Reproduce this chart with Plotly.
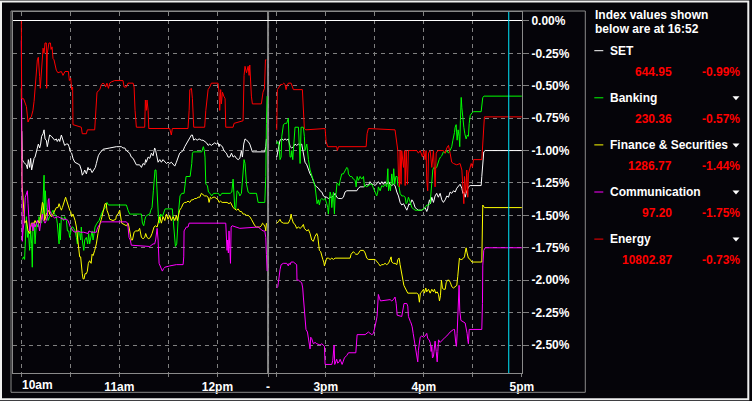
import plotly.graph_objects as go

# ---------------- data ----------------
SERIES_NAMES = ["SET", "Banking", "Finance & Securities", "Communication", "Energy"]
SERIES_COLORS = ["#ffffff", "#00ff00", "#ffff00", "#ff00ff", "#ff0000"]
INDEX_VALUES = ["644.95", "230.36", "1286.77", "97.20", "10802.87"]
INDEX_CHANGES = ["-0.99%", "-0.57%", "-1.44%", "-1.75%", "-0.73%"]
AS_OF_LABEL = "16:52"
AS_OF_MIN = 412          # 16:52 in minutes after 10:00

Y_TICKS = [0.0, -0.25, -0.5, -0.75, -1.0, -1.25, -1.5, -1.75, -2.0, -2.25, -2.5]
Y_TICK_TEXT = ["0.00%", "-0.25%", "-0.50%", "-0.75%", "-1.00%", "-1.25%",
               "-1.50%", "-1.75%", "-2.00%", "-2.25%", "-2.50%"]
# grid / tick times, minutes after 10:00
X_TICK_MIN = [0, 30, 60, 90, 120, 270, 300, 330, 360, 390, 420]
X_TICK_TEXT = ["", "", "11am", "", "12pm", "", "3pm", "", "4pm", "", "5pm"]
FIRST_LABEL = "10am"
BREAK_LABEL = "-"

# time in minutes after 10:00, value in % change
SET_AM_T = [0.3, 0.6, 1.4, 2.0, 3.1, 3.7, 4.3, 5.1, 5.7, 6.3,
            7.1, 7.8, 8.4, 9.2, 9.8, 10.4, 11.2, 11.8, 12.4, 13.3,
            13.9, 14.5, 15.3, 15.9, 16.5, 17.3, 18.4, 19.4, 20.4, 21.4,
            22.0, 22.9, 23.5, 24.5, 25.1, 25.5, 26.5, 27.6, 28.6, 29.2,
            30.0, 30.8, 31.6, 32.7, 34.7, 35.7, 36.7, 37.3, 38.2, 38.8,
            39.8, 40.8, 41.4, 42.2, 43.3, 44.3, 45.3, 45.9, 46.5, 47.1,
            48.0, 49.0, 50.0, 54.1, 58.2, 61.2, 62.2, 63.3, 64.3, 66.3,
            67.3, 68.4, 69.4, 70.4, 71.4, 72.4, 73.5, 74.5, 75.5, 76.1,
            76.5, 77.6, 78.6, 79.6, 80.6, 81.6, 82.2, 83.1, 83.7, 84.7,
            85.7, 86.7, 87.8, 88.8, 89.8, 90.8, 91.8, 92.9, 93.9, 94.9,
            95.9, 96.9, 98.0, 99.0, 100.0, 101.0, 102.0, 103.1, 104.1, 104.7,
            105.5, 106.5, 107.6, 108.8, 110.2, 111.2, 112.2, 113.3, 114.3, 115.3,
            116.3, 117.3, 118.4, 119.4, 120.4, 121.0, 121.4, 122.0, 123.1, 123.9,
            124.7, 125.5, 126.5, 127.6, 128.6, 129.6, 130.6, 131.6, 132.7, 133.7,
            134.7, 135.3, 136.1, 136.9, 137.8, 138.8, 139.8, 140.8, 141.4, 142.9,
            149.0, 149.6, 150.0]
SET_AM_V = [-0.85, -1.07, -1.09, -1.10, -1.11, -1.14, -1.07, -1.13, -1.06, -1.15,
            -1.10, -1.06, -1.05, -1.02, -0.98, -0.95, -0.98, -0.95, -0.89, -0.87,
            -0.84, -0.91, -0.92, -0.97, -0.92, -0.88, -0.89, -0.91, -0.92, -0.91,
            -0.93, -0.91, -0.93, -0.88, -0.91, -0.93, -0.96, -0.95, -0.95, -0.97,
            -1.01, -1.02, -1.06, -1.09, -1.10, -1.11, -1.15, -1.19, -1.17, -1.15,
            -1.18, -1.13, -1.15, -1.14, -1.17, -1.15, -1.13, -1.10, -1.06, -1.04,
            -1.02, -1.00, -0.99, -0.98, -0.97, -0.97, -0.98, -0.98, -1.00, -1.02,
            -1.05, -1.06, -1.09, -1.11, -1.11, -1.11, -1.13, -1.10, -1.11, -1.07,
            -1.09, -1.05, -1.06, -1.02, -1.04, -0.98, -1.00, -1.05, -1.09, -1.07,
            -1.09, -1.07, -1.09, -1.10, -1.09, -1.10, -1.09, -1.11, -1.12, -1.09,
            -1.05, -1.02, -1.01, -1.00, -0.97, -0.95, -0.93, -0.91, -0.88, -0.88,
            -0.92, -0.91, -0.92, -0.91, -0.92, -0.92, -0.93, -0.94, -0.96, -0.95,
            -0.96, -0.95, -0.94, -0.95, -0.94, -0.97, -0.95, -0.96, -0.97, -1.00,
            -1.01, -1.02, -1.05, -1.05, -1.02, -1.05, -1.04, -1.06, -1.07, -1.06,
            -1.00, -1.05, -0.95, -0.91, -0.92, -0.93, -0.95, -1.00, -1.01, -1.01,
            -1.01, -0.97, -0.91]
SET_PM_T = [270.0, 270.6, 271.4, 272.0, 273.1, 274.1, 275.1, 276.1, 277.1, 278.2,
            279.2, 280.2, 281.2, 282.2, 283.3, 284.3, 285.3, 286.3, 287.3, 288.4,
            289.4, 290.4, 291.4, 292.4, 293.5, 294.5, 295.5, 296.5, 297.6, 298.6,
            299.6, 300.6, 301.6, 302.7, 303.7, 304.7, 305.7, 306.7, 307.8, 308.8,
            309.8, 310.8, 311.8, 312.9, 319.0, 320.0, 321.0, 323.1, 324.1, 325.1,
            326.1, 327.1, 328.2, 329.2, 330.2, 331.2, 332.2, 333.3, 334.3, 335.3,
            336.3, 337.3, 338.4, 339.4, 340.4, 341.4, 342.4, 343.5, 344.5, 345.5,
            346.5, 347.6, 348.6, 349.6, 350.2, 351.0, 351.6, 352.7, 353.7, 354.7,
            355.7, 356.7, 357.8, 358.8, 359.8, 360.8, 361.8, 362.4, 362.9, 363.5,
            364.1, 364.9, 365.9, 366.9, 367.9, 368.9, 370.0, 371.0, 372.0, 373.1,
            374.1, 375.1, 376.1, 377.1, 378.2, 379.2, 380.2, 381.2, 382.2, 383.3,
            383.9, 384.5, 385.3, 385.9, 386.5, 387.3, 388.4, 395.1, 395.5, 396.1,
            396.7, 397.6, 420.0]
SET_PM_V = [-1.05, -1.00, -0.96, -0.92, -0.91, -0.92, -0.91, -0.92, -0.91, -0.97,
            -0.98, -0.97, -0.95, -0.96, -0.95, -0.96, -0.95, -1.02, -1.09, -1.11,
            -1.15, -1.18, -1.20, -1.24, -1.27, -1.28, -1.29, -1.31, -1.32, -1.35,
            -1.36, -1.36, -1.37, -1.36, -1.36, -1.35, -1.33, -1.36, -1.37, -1.37,
            -1.37, -1.36, -1.32, -1.31, -1.31, -1.29, -1.28, -1.28, -1.27, -1.26,
            -1.27, -1.24, -1.26, -1.26, -1.27, -1.25, -1.24, -1.26, -1.24, -1.26,
            -1.24, -1.26, -1.24, -1.26, -1.27, -1.26, -1.27, -1.32, -1.35, -1.40,
            -1.42, -1.41, -1.44, -1.46, -1.44, -1.41, -1.42, -1.38, -1.40, -1.44,
            -1.45, -1.46, -1.46, -1.46, -1.45, -1.44, -1.47, -1.45, -1.41, -1.38,
            -1.41, -1.36, -1.40, -1.35, -1.33, -1.36, -1.33, -1.38, -1.40, -1.38,
            -1.35, -1.36, -1.32, -1.33, -1.31, -1.32, -1.29, -1.27, -1.26, -1.29,
            -1.33, -1.32, -1.36, -1.33, -1.31, -1.28, -1.27, -1.27, -1.20, -1.13,
            -1.01, -1.00, -1.00]

BANK_AM_T = [0.6, 1.4, 2.0, 2.7, 3.1, 3.7, 4.3, 5.1, 5.7, 6.3,
             6.7, 7.1, 7.8, 8.4, 9.2, 10.2, 10.8, 11.6, 12.4, 13.1,
             13.5, 13.9, 14.3, 14.7, 15.3, 15.9, 16.3, 17.3, 19.4, 20.4,
             21.4, 22.0, 22.7, 23.1, 23.5, 23.9, 24.5, 25.9, 26.5, 27.6,
             28.2, 29.0, 29.6, 30.8, 31.6, 32.9, 33.7, 34.3, 34.9, 35.7,
             36.3, 36.7, 37.3, 38.2, 38.8, 39.8, 40.6, 41.2, 41.8, 42.7,
             43.3, 43.9, 44.5, 45.1, 46.3, 47.6, 48.4, 49.2, 50.0, 51.6,
             52.4, 53.3, 55.1, 64.3, 65.3, 66.3, 72.4, 73.5, 74.1, 74.9,
             75.5, 76.1, 76.9, 78.6, 79.2, 80.0, 80.8, 81.4, 81.8, 82.4,
             82.9, 83.3, 83.9, 84.5, 85.3, 86.3, 86.9, 88.0, 92.4, 93.1,
             93.7, 94.3, 95.1, 95.7, 96.3, 97.1, 98.2, 99.6, 100.2, 100.8,
             103.3, 103.9, 104.3, 104.7, 105.3, 110.4, 111.4, 112.0, 112.4, 112.9,
             113.9, 114.5, 115.5, 116.5, 117.6, 119.6, 120.6, 121.6, 122.7, 127.8,
             128.8, 129.6, 130.0, 130.6, 131.2, 132.0, 132.9, 133.7, 134.7, 135.7,
             136.3, 136.9, 137.8, 138.8, 139.8, 143.9, 144.9, 149.0, 149.6, 150.0,
             150.4]
BANK_AM_V = [-1.84, -1.82, -1.84, -1.56, -1.51, -1.67, -1.62, -1.77, -1.62, -1.72,
             -1.90, -1.59, -1.56, -1.72, -1.56, -1.59, -1.51, -1.54, -1.56, -1.46,
             -1.31, -1.19, -1.51, -1.31, -1.44, -1.49, -1.54, -1.51, -1.46, -1.49,
             -1.51, -1.56, -1.67, -1.72, -1.56, -1.69, -1.51, -1.54, -1.51, -1.54,
             -1.62, -1.62, -1.67, -1.59, -1.59, -1.62, -1.67, -1.72, -1.62, -1.64,
             -1.69, -1.59, -1.69, -1.77, -1.69, -1.67, -1.72, -1.64, -1.72, -1.67,
             -1.62, -1.69, -1.64, -1.59, -1.56, -1.54, -1.51, -1.49, -1.46, -1.44,
             -1.40, -1.42, -1.42, -1.42, -1.46, -1.49, -1.49, -1.49, -1.56, -1.58,
             -1.54, -1.51, -1.50, -1.49, -1.46, -1.44, -1.31, -1.20, -1.15, -1.15,
             -1.26, -1.41, -1.51, -1.56, -1.49, -1.51, -1.49, -1.45, -1.45, -1.54,
             -1.67, -1.74, -1.72, -1.56, -1.46, -1.35, -1.33, -1.33, -1.27, -1.20,
             -1.20, -1.15, -1.10, -1.02, -1.01, -1.01, -0.97, -1.00, -1.05, -1.26,
             -1.27, -1.32, -1.33, -1.35, -1.33, -1.33, -1.33, -1.35, -1.33, -1.33,
             -1.32, -1.22, -1.31, -1.44, -1.45, -1.31, -1.32, -1.35, -1.33, -1.20,
             -1.07, -1.10, -1.26, -1.32, -1.33, -1.33, -1.40, -1.40, -1.20, -0.79,
             -0.58]
BANK_PM_T = [270.0, 270.6, 271.4, 272.0, 272.7, 273.1, 274.1, 275.1, 276.1, 276.7,
             277.1, 277.6, 278.2, 278.8, 279.2, 279.8, 280.4, 280.8, 281.2, 283.3,
             283.7, 284.3, 284.9, 286.3, 286.9, 287.3, 288.4, 289.0, 289.4, 290.4,
             291.4, 292.4, 293.5, 294.1, 294.7, 295.5, 296.1, 296.7, 297.6, 298.6,
             299.6, 300.6, 301.2, 301.6, 302.2, 302.7, 303.3, 303.7, 304.1, 304.7,
             305.3, 305.7, 306.3, 306.9, 307.8, 308.2, 308.8, 309.8, 310.8, 311.8,
             312.9, 313.5, 313.9, 314.9, 315.9, 316.9, 318.0, 318.6, 319.2, 320.0,
             321.0, 322.0, 323.1, 323.7, 324.5, 325.1, 326.1, 327.1, 328.2, 329.2,
             330.2, 331.2, 331.8, 332.2, 333.3, 334.3, 335.3, 336.3, 337.3, 338.0,
             338.4, 339.0, 339.6, 340.4, 341.0, 341.6, 342.2, 342.9, 343.7, 344.1,
             344.9, 345.5, 346.5, 347.6, 348.6, 349.2, 349.8, 350.6, 351.2, 352.0,
             352.7, 353.7, 354.7, 358.8, 360.8, 361.8, 362.9, 363.9, 364.5, 364.9,
             365.5, 366.1, 366.9, 367.9, 368.6, 369.4, 370.2, 371.0, 372.0, 373.1,
             374.1, 375.1, 376.1, 377.1, 377.8, 378.4, 378.8, 379.2, 379.8, 380.4,
             381.0, 381.6, 382.0, 382.4, 382.9, 383.3, 383.9, 384.5, 385.1, 385.9,
             386.7, 387.3, 387.8, 388.4, 389.4, 390.4, 395.1, 395.5, 396.1, 396.9,
             420.0]
BANK_PM_V = [-0.95, -0.93, -0.96, -1.07, -1.05, -0.89, -0.80, -0.79, -0.79, -0.77,
             -0.75, -0.95, -1.05, -1.05, -1.00, -1.07, -0.95, -0.83, -0.82, -0.82,
             -1.00, -1.10, -0.82, -0.82, -0.89, -1.00, -0.95, -1.05, -1.07, -1.15,
             -1.20, -1.23, -1.28, -1.36, -1.41, -1.38, -1.42, -1.38, -1.37, -1.38,
             -1.37, -1.41, -1.44, -1.49, -1.36, -1.32, -1.35, -1.44, -1.38, -1.32,
             -1.49, -1.36, -1.33, -1.25, -1.26, -1.27, -1.23, -1.18, -1.18, -1.15,
             -1.13, -1.14, -1.18, -1.20, -1.20, -1.22, -1.23, -1.28, -1.20, -1.23,
             -1.20, -1.22, -1.20, -1.28, -1.27, -1.28, -1.27, -1.26, -1.26, -1.29,
             -1.31, -1.35, -1.32, -1.28, -1.31, -1.27, -1.28, -1.26, -1.28, -1.14,
             -1.31, -1.26, -1.31, -1.18, -1.26, -1.14, -1.26, -1.20, -1.20, -1.27,
             -1.28, -1.33, -1.35, -1.35, -1.36, -1.41, -1.40, -1.36, -1.38, -1.41,
             -1.44, -1.45, -1.46, -1.46, -1.44, -1.42, -1.42, -1.41, -1.31, -1.20,
             -1.15, -1.13, -1.14, -1.13, -1.09, -1.07, -1.05, -1.04, -1.01, -1.02,
             -1.00, -1.02, -1.00, -0.97, -0.92, -0.89, -0.86, -0.82, -0.80, -0.92,
             -0.84, -0.89, -0.97, -0.77, -0.59, -0.67, -0.77, -0.82, -0.87, -0.91,
             -0.88, -0.89, -0.79, -0.73, -0.71, -0.70, -0.70, -0.66, -0.59, -0.58,
             -0.58]

FIN_AM_T = [0.0, 0.4, 1.0, 2.0, 3.1, 4.1, 5.1, 6.1, 7.8, 8.4,
            9.2, 10.2, 11.2, 11.8, 12.4, 12.9, 13.3, 13.9, 14.3, 15.3,
            16.9, 17.3, 18.4, 19.4, 20.4, 21.4, 22.4, 23.1, 23.9, 24.5,
            25.1, 25.9, 26.5, 27.1, 27.6, 28.2, 29.0, 29.6, 30.2, 30.8,
            31.6, 32.2, 32.9, 33.7, 34.3, 34.9, 35.3, 35.7, 36.3, 36.9,
            37.3, 37.8, 38.4, 39.0, 39.8, 40.4, 41.0, 41.8, 42.7, 43.3,
            43.9, 44.9, 45.9, 46.9, 47.6, 48.2, 49.0, 49.6, 50.4, 51.2,
            52.0, 52.4, 53.3, 54.1, 56.1, 57.8, 58.2, 59.2, 60.2, 60.8,
            61.4, 64.3, 65.3, 65.9, 66.3, 66.7, 67.3, 68.0, 69.0, 70.0,
            71.6, 72.4, 73.5, 74.5, 75.5, 76.1, 76.9, 78.0, 79.0, 80.0,
            80.6, 81.2, 82.0, 83.1, 83.7, 84.7, 85.7, 86.7, 87.8, 88.8,
            89.8, 90.8, 91.8, 92.9, 93.9, 94.9, 95.5, 96.3, 96.9, 98.0,
            99.0, 100.0, 101.0, 102.0, 103.1, 104.1, 105.1, 106.1, 107.1, 108.2,
            109.2, 110.2, 111.2, 112.2, 113.3, 114.3, 114.9, 115.7, 116.5, 117.3,
            118.4, 119.4, 120.4, 121.0, 121.8, 122.9, 123.9, 124.9, 125.9, 127.1,
            128.0, 128.8, 129.6, 130.6, 131.6, 132.7, 133.7, 134.7, 135.7, 136.7,
            137.8, 138.8, 139.8, 140.8, 141.8, 142.9, 143.9, 144.9, 145.9, 146.9,
            147.6, 148.4, 149.2, 149.6, 150.0]
FIN_AM_V = [-0.52, -1.26, -1.36, -1.56, -1.54, -1.62, -1.64, -1.56, -1.56, -1.54,
            -1.56, -1.54, -1.56, -1.51, -1.46, -1.40, -1.41, -1.49, -1.54, -1.49,
            -1.46, -1.49, -1.51, -1.49, -1.46, -1.44, -1.44, -1.41, -1.44, -1.46,
            -1.44, -1.40, -1.37, -1.36, -1.38, -1.41, -1.44, -1.46, -1.47, -1.51,
            -1.49, -1.51, -1.54, -1.59, -1.67, -1.72, -1.77, -1.82, -1.82, -1.93,
            -1.95, -1.99, -1.99, -1.95, -1.95, -1.93, -1.87, -1.85, -1.87, -1.80,
            -1.81, -1.77, -1.72, -1.64, -1.59, -1.56, -1.53, -1.49, -1.44, -1.41,
            -1.41, -1.46, -1.49, -1.53, -1.54, -1.53, -1.50, -1.49, -1.46, -1.51,
            -1.56, -1.58, -1.56, -1.59, -1.63, -1.67, -1.69, -1.69, -1.63, -1.62,
            -1.62, -1.60, -1.67, -1.68, -1.67, -1.64, -1.67, -1.68, -1.67, -1.64,
            -1.62, -1.59, -1.58, -1.59, -1.56, -1.51, -1.56, -1.51, -1.54, -1.49,
            -1.53, -1.50, -1.54, -1.51, -1.54, -1.50, -1.54, -1.49, -1.46, -1.44,
            -1.41, -1.40, -1.40, -1.39, -1.40, -1.38, -1.38, -1.37, -1.37, -1.36,
            -1.36, -1.33, -1.34, -1.35, -1.35, -1.36, -1.40, -1.36, -1.37, -1.36,
            -1.36, -1.37, -1.38, -1.40, -1.39, -1.40, -1.40, -1.40, -1.40, -1.41,
            -1.40, -1.42, -1.44, -1.45, -1.46, -1.45, -1.47, -1.47, -1.49, -1.49,
            -1.50, -1.50, -1.51, -1.53, -1.56, -1.58, -1.59, -1.59, -1.59, -1.58,
            -1.56, -1.57, -1.59, -1.62, -1.56]
FIN_PM_T = [270.0, 271.0, 272.0, 272.7, 274.1, 277.1, 278.2, 278.8, 279.2, 280.2,
            281.2, 282.2, 283.3, 284.3, 285.3, 286.3, 286.9, 287.8, 288.4, 289.4,
            290.4, 291.4, 292.4, 293.5, 294.5, 295.1, 295.5, 296.1, 296.9, 297.6,
            298.2, 298.8, 299.2, 299.6, 300.2, 300.6, 301.6, 302.7, 303.7, 304.7,
            305.7, 314.9, 315.5, 316.3, 316.9, 317.6, 318.4, 319.6, 320.4, 321.2,
            323.1, 324.1, 325.1, 326.1, 330.2, 331.2, 332.2, 333.3, 334.3, 335.3,
            336.3, 337.3, 338.4, 339.4, 340.0, 340.4, 341.4, 342.4, 343.5, 344.1,
            344.9, 345.5, 346.1, 346.5, 347.1, 347.8, 348.6, 349.6, 350.2, 355.7,
            356.7, 357.3, 357.9, 358.8, 359.8, 360.4, 361.2, 361.8, 362.9, 363.9,
            364.9, 365.9, 366.5, 367.3, 368.2, 369.0, 369.6, 370.2, 370.8, 371.4,
            372.0, 373.1, 373.7, 374.5, 375.5, 376.3, 377.1, 378.2, 379.2, 380.2,
            380.8, 381.2, 381.8, 382.4, 383.3, 384.3, 384.9, 385.3, 385.9, 386.5,
            387.3, 388.4, 389.4, 395.5, 395.9, 396.1, 397.1, 420.0]
FIN_PM_V = [-1.56, -1.55, -1.53, -1.55, -1.56, -1.56, -1.53, -1.49, -1.52, -1.56,
            -1.57, -1.60, -1.59, -1.60, -1.59, -1.57, -1.60, -1.61, -1.62, -1.61,
            -1.64, -1.69, -1.70, -1.66, -1.64, -1.66, -1.71, -1.77, -1.78, -1.82,
            -1.84, -1.86, -1.89, -1.87, -1.84, -1.83, -1.83, -1.84, -1.83, -1.84,
            -1.83, -1.83, -1.80, -1.79, -1.78, -1.79, -1.80, -1.80, -1.78, -1.77,
            -1.77, -1.79, -1.83, -1.84, -1.84, -1.86, -1.87, -1.89, -1.88, -1.88,
            -1.87, -1.88, -1.87, -1.84, -1.82, -1.86, -1.87, -1.87, -1.88, -1.84,
            -1.83, -1.88, -1.92, -1.97, -2.00, -2.04, -2.06, -2.09, -2.10, -2.10,
            -2.11, -2.17, -2.10, -2.09, -2.07, -2.10, -2.06, -2.09, -2.07, -2.10,
            -2.07, -2.09, -2.07, -2.10, -2.09, -2.11, -2.16, -2.12, -2.00, -2.06,
            -2.07, -2.07, -2.02, -2.00, -2.00, -2.02, -2.05, -2.06, -2.05, -2.04,
            -1.97, -1.89, -1.83, -1.84, -1.84, -1.83, -1.82, -1.79, -1.75, -1.79,
            -1.83, -1.84, -1.86, -1.86, -1.61, -1.42, -1.44, -1.44]

COMM_AM_T = [0.0, 0.3, 0.6, 1.0, 1.6, 2.4, 3.1, 3.7, 4.1, 4.7,
             5.1, 5.7, 6.7, 7.1, 7.8, 8.4, 9.2, 9.8, 10.4, 11.2,
             11.8, 12.4, 12.9, 13.3, 14.5, 15.3, 15.9, 16.5, 16.9, 17.3,
             18.6, 20.4, 22.4, 25.5, 27.6, 28.6, 29.2, 30.0, 30.8, 31.6,
             32.9, 34.7, 36.3, 38.2, 40.8, 41.4, 42.9, 45.9, 46.3, 46.9,
             48.4, 49.2, 64.3, 64.9, 65.3, 65.9, 66.7, 67.3, 78.6, 79.6,
             80.6, 81.6, 82.2, 83.1, 83.7, 84.3, 85.1, 85.7, 86.3, 87.1,
             87.8, 90.8, 94.9, 99.0, 99.4, 99.6, 101.0, 102.0, 102.7, 125.1,
             125.5, 125.9, 126.3, 126.7, 127.1, 127.6, 128.0, 128.4, 129.0, 133.7,
             141.8, 144.9, 146.9, 147.9, 149.0, 149.6, 150.0, 150.4]
COMM_AM_V = [-0.15, -1.60, -1.70, -1.62, -1.56, -1.36, -1.32, -1.31, -1.41, -1.51,
             -1.62, -1.59, -1.56, -1.62, -1.56, -1.59, -1.56, -1.54, -1.56, -1.62,
             -1.56, -1.51, -1.49, -1.53, -1.56, -1.54, -1.51, -1.38, -1.37, -1.46,
             -1.50, -1.52, -1.51, -1.53, -1.53, -1.54, -1.56, -1.59, -1.60, -1.62,
             -1.63, -1.62, -1.63, -1.63, -1.64, -1.62, -1.63, -1.63, -1.61, -1.59,
             -1.56, -1.55, -1.55, -1.56, -1.59, -1.67, -1.69, -1.73, -1.74, -1.73,
             -1.72, -1.72, -1.69, -1.60, -1.69, -1.87, -1.90, -1.91, -1.93, -1.91,
             -1.90, -1.89, -1.88, -1.88, -1.82, -1.62, -1.59, -1.59, -1.56, -1.56,
             -1.67, -1.77, -1.69, -1.79, -1.62, -1.72, -1.87, -1.59, -1.58, -1.60,
             -1.59, -1.59, -1.61, -1.62, -1.62, -1.67, -1.80, -1.93]
COMM_PM_T = [270.0, 270.6, 271.0, 271.4, 272.0, 272.7, 274.1, 276.1, 277.1, 277.6,
             278.2, 278.8, 280.2, 281.2, 282.2, 282.4, 283.3, 285.3, 285.9, 286.3,
             286.9, 287.3, 287.9, 288.8, 289.4, 290.0, 290.4, 290.8, 291.4, 292.4,
             293.5, 294.5, 296.5, 297.6, 298.6, 299.2, 299.6, 303.7, 304.3, 304.7,
             305.1, 305.5, 306.1, 306.7, 307.3, 308.2, 308.8, 309.4, 310.0, 310.6,
             311.4, 312.9, 313.9, 318.4, 318.8, 319.2, 324.1, 325.1, 326.1, 327.1,
             328.2, 329.2, 329.8, 330.6, 331.4, 331.8, 332.2, 332.9, 333.5, 339.4,
             340.4, 341.4, 342.4, 343.1, 343.7, 346.5, 347.1, 347.9, 349.6, 350.2,
             350.6, 351.2, 351.8, 352.2, 352.9, 353.5, 354.1, 354.7, 355.1, 355.5,
             355.9, 356.3, 356.7, 357.1, 357.8, 358.8, 359.8, 360.8, 361.8, 362.4,
             363.3, 364.1, 364.5, 364.9, 365.3, 365.9, 366.5, 366.9, 367.6, 368.2,
             368.6, 369.0, 370.0, 372.0, 373.1, 374.1, 375.1, 376.1, 378.2, 378.8,
             379.6, 380.0, 380.4, 380.8, 381.2, 381.6, 382.0, 382.7, 385.3, 385.9,
             386.5, 386.9, 387.3, 387.8, 395.5, 395.9, 396.1, 396.7, 397.6, 420.0]
COMM_PM_V = [-2.06, -2.05, -2.02, -1.95, -1.92, -1.88, -1.87, -1.87, -1.89, -1.87,
             -1.88, -1.86, -1.86, -1.87, -1.88, -2.00, -2.00, -2.02, -2.06, -2.13,
             -2.23, -2.33, -2.38, -2.40, -2.44, -2.49, -2.53, -2.44, -2.45, -2.49,
             -2.48, -2.49, -2.50, -2.49, -2.50, -2.51, -2.65, -2.65, -2.62, -2.55,
             -2.50, -2.65, -2.63, -2.61, -2.64, -2.63, -2.61, -2.64, -2.65, -2.63,
             -2.60, -2.58, -2.56, -2.56, -2.49, -2.42, -2.42, -2.41, -2.40, -2.41,
             -2.42, -2.41, -2.36, -2.33, -2.28, -2.18, -2.11, -2.14, -2.16, -2.15,
             -2.16, -2.15, -2.13, -2.18, -2.27, -2.28, -2.24, -2.18, -2.18, -2.20,
             -2.28, -2.31, -2.32, -2.33, -2.36, -2.41, -2.46, -2.49, -2.51, -2.54,
             -2.59, -2.63, -2.54, -2.49, -2.44, -2.43, -2.44, -2.43, -2.41, -2.45,
             -2.46, -2.49, -2.55, -2.51, -2.60, -2.59, -2.51, -2.47, -2.55, -2.63,
             -2.55, -2.46, -2.48, -2.45, -2.44, -2.43, -2.41, -2.40, -2.38, -2.38,
             -2.49, -2.51, -2.41, -2.31, -2.18, -2.04, -2.23, -2.31, -2.33, -2.36,
             -2.41, -2.46, -2.49, -2.38, -2.38, -2.18, -1.89, -1.77, -1.75, -1.75]

ENRG_AM_T = [0.0, 0.2, 1.4, 3.1, 4.1, 5.1, 6.1, 7.1, 7.8, 8.4,
             9.2, 9.8, 10.4, 10.8, 11.2, 11.6, 12.2, 12.9, 13.3, 13.9,
             14.5, 15.3, 15.5, 15.9, 16.9, 17.8, 18.2, 18.8, 19.4, 20.0,
             20.8, 21.4, 22.4, 24.5, 25.5, 26.7, 28.8, 29.4, 30.2, 30.8,
             31.4, 31.6, 36.7, 37.3, 39.8, 40.4, 44.9, 45.5, 46.3, 48.0,
             49.0, 50.0, 51.0, 51.6, 52.4, 53.3, 54.1, 55.1, 57.1, 62.2,
             62.9, 64.3, 65.3, 68.4, 69.0, 69.6, 70.4, 75.5, 75.9, 76.5,
             76.9, 77.6, 78.0, 90.8, 91.8, 92.4, 102.0, 102.7, 103.1, 104.1,
             104.7, 105.5, 112.2, 112.9, 113.7, 114.3, 115.3, 116.3, 120.4, 121.0,
             121.4, 122.0, 122.4, 123.1, 123.9, 124.7, 125.1, 129.6, 130.2, 134.7,
             135.7, 136.3, 136.9, 137.8, 138.8, 139.4, 139.8, 140.8, 141.4, 146.9,
             147.9, 148.8, 149.4, 150.0]
ENRG_AM_V = [0.00, -0.60, -0.60, -0.66, -0.78, -0.75, -0.74, -0.69, -0.62, -0.51,
             -0.37, -0.30, -0.28, -0.33, -0.43, -0.52, -0.39, -0.28, -0.21, -0.25,
             -0.17, -0.17, -0.52, -0.25, -0.17, -0.17, -0.22, -0.20, -0.29, -0.30,
             -0.35, -0.38, -0.40, -0.39, -0.42, -0.39, -0.39, -0.46, -0.44, -0.53,
             -0.51, -0.80, -0.82, -0.87, -0.87, -0.84, -0.84, -0.69, -0.55, -0.53,
             -0.49, -0.48, -0.49, -0.51, -0.48, -0.52, -0.48, -0.47, -0.46, -0.46,
             -0.51, -0.51, -0.48, -0.48, -0.51, -0.69, -0.82, -0.82, -0.61, -0.69,
             -0.61, -0.69, -0.83, -0.83, -0.88, -0.83, -0.83, -0.69, -0.53, -0.52,
             -0.60, -0.82, -0.82, -0.69, -0.61, -0.53, -0.51, -0.48, -0.48, -0.55,
             -0.69, -0.53, -0.64, -0.55, -0.58, -0.60, -0.82, -0.82, -0.79, -0.77,
             -0.77, -0.42, -0.35, -0.40, -0.35, -0.42, -0.34, -0.58, -0.64, -0.64,
             -0.55, -0.52, -0.30, -0.30]
ENRG_PM_T = [270.0, 270.4, 271.4, 272.4, 273.5, 274.3, 275.1, 275.7, 276.3, 277.1,
             278.8, 279.6, 280.2, 285.7, 286.3, 286.9, 287.8, 299.6, 300.2, 301.2,
             306.7, 307.1, 307.8, 324.7, 325.3, 326.1, 342.4, 343.5, 344.1, 344.5,
             345.1, 345.5, 346.1, 346.5, 347.6, 348.2, 348.6, 349.2, 350.0, 350.6,
             355.7, 356.7, 357.8, 359.2, 360.0, 360.8, 361.4, 361.8, 362.4, 362.9,
             363.9, 364.9, 365.9, 366.5, 366.9, 367.6, 368.6, 372.0, 373.1, 374.1,
             375.1, 376.1, 377.1, 378.2, 380.2, 382.2, 383.3, 383.9, 384.5, 384.9,
             385.7, 386.3, 386.9, 387.3, 388.4, 389.0, 389.8, 390.4, 395.5, 395.9,
             396.5, 397.1, 420.0]
ENRG_PM_V = [-0.84, -0.53, -0.51, -0.49, -0.49, -0.48, -0.49, -0.53, -0.50, -0.48,
             -0.48, -0.51, -0.53, -0.53, -0.71, -0.83, -0.84, -0.83, -0.93, -0.97,
             -0.97, -1.00, -0.97, -0.97, -0.87, -0.83, -0.84, -0.95, -1.00, -1.20,
             -1.28, -1.00, -1.26, -1.00, -1.13, -1.00, -1.27, -1.00, -1.26, -1.00,
             -1.00, -1.02, -1.00, -1.05, -1.00, -1.07, -1.00, -1.23, -1.31, -1.02,
             -1.00, -1.13, -1.00, -1.15, -1.28, -1.02, -1.00, -1.00, -1.02, -0.98,
             -0.96, -1.02, -1.09, -1.10, -1.11, -1.10, -1.15, -1.28, -1.41, -1.20,
             -1.33, -1.15, -1.36, -1.18, -1.13, -1.10, -1.13, -1.07, -1.07, -0.96,
             -0.82, -0.74, -0.74]

SERIES_DATA = [
    (SET_AM_T, SET_AM_V, SET_PM_T, SET_PM_V),
    (BANK_AM_T, BANK_AM_V, BANK_PM_T, BANK_PM_V),
    (FIN_AM_T, FIN_AM_V, FIN_PM_T, FIN_PM_V),
    (COMM_AM_T, COMM_AM_V, COMM_PM_T, COMM_PM_V),
    (ENRG_AM_T, ENRG_AM_V, ENRG_PM_T, ENRG_PM_V),
]

# ---------------- scale (session time -> axis) ----------------
PM_OPEN_MIN = 270        # 14:30
PM_AXIS_START = 156.3    # where 14:30 sits on the compressed axis
LUNCH_AXIS = 151.0       # lunch-break divider


def to_axis(t):
    return t if t < 200 else t - PM_OPEN_MIN + PM_AXIS_START


# ---------------- styling ----------------
BG = "#050409"
GRID = "#808080"
FRAME = "#8a8a8a"
FONT = "Liberation Sans, Arial, sans-serif"
W, H = 752, 401
ML, MR, MT, MB = 13, 230, 12, 28
PW, PH = W - ML - MR, H - MT - MB


def px(xp):
    return (xp - ML) / PW


def py(yp):
    return (H - MB - yp) / PH


fig = go.Figure()

for (am_t, am_v, pm_t, pm_v), color in zip(SERIES_DATA, SERIES_COLORS):
    assert len(am_t) == len(am_v) and len(pm_t) == len(pm_v)
    xs = [to_axis(t) for t in am_t] + [None] + [to_axis(t) for t in pm_t]
    ys = list(am_v) + [None] + list(pm_v)
    fig.add_trace(go.Scatter(x=xs, y=ys, mode="lines",
                             line=dict(color=color, width=1),
                             hoverinfo="skip", showlegend=False,
                             connectgaps=False))

tick_font = dict(family=FONT, size=12, color="#ffffff", weight="bold")

x_vals = [to_axis(t) for t in X_TICK_MIN] + [LUNCH_AXIS]
x_text = X_TICK_TEXT + [BREAK_LABEL]

fig.update_xaxes(range=[-5.1, 306.4], tickmode="array", tickvals=x_vals, ticktext=x_text,
                 ticks="outside", ticklen=3, tickcolor=GRID, tickfont=tick_font,
                 showgrid=True, gridcolor=GRID, gridwidth=1, griddash="4px,4px",
                 showline=True, mirror=True, linecolor=FRAME, linewidth=1,
                 zeroline=False, fixedrange=True, automargin=False)
fig.update_yaxes(range=[-2.716, 0.069], side="right", tickmode="array",
                 tickvals=Y_TICKS, ticktext=Y_TICK_TEXT,
                 ticks="outside", ticklen=6, tickcolor=GRID, tickfont=tick_font,
                 showgrid=True, gridcolor=GRID, gridwidth=1, griddash="4px,4px",
                 showline=True, mirror=True, linecolor=FRAME, linewidth=1,
                 zeroline=True, zerolinecolor="#ffffff", zerolinewidth=1,
                 fixedrange=True, automargin=False)

shapes = []
# lunch divider
shapes.append(dict(type="line", xref="x", yref="paper", x0=LUNCH_AXIS, x1=LUNCH_AXIS,
                   y0=0, y1=1, line=dict(color="#8c8c8c", width=2), layer="between"))
# current time marker
now_x = to_axis(AS_OF_MIN)
shapes.append(dict(type="line", xref="x", yref="paper", x0=now_x, x1=now_x,
                   y0=0, y1=1, line=dict(color="#00e8ff", width=1), layer="above"))
# outer gray frame
shapes.append(dict(type="rect", xref="paper", yref="paper",
                   x0=px(11), x1=px(585.3), y0=py(392.3), y1=py(11),
                   line=dict(color=FRAME, width=1), fillcolor="rgba(0,0,0,0)"))
# window border
shapes.append(dict(type="rect", xref="paper", yref="paper",
                   x0=px(1), x1=px(748.3), y0=py(399.3), y1=py(1.5),
                   line=dict(color="#f0f0f0", width=2), fillcolor="rgba(0,0,0,0)"))

annotations = []
# first axis label is left-aligned at its tick
annotations.append(dict(xref="x", yref="paper", x=to_axis(X_TICK_MIN[0]), y=py(384.5),
                        text=FIRST_LABEL, showarrow=False, xanchor="left", yanchor="middle",
                        font=tick_font, borderpad=0))

# side panel
annotations.append(dict(xref="paper", yref="paper", x=px(593.5), y=py(14.5),
                        text="Index values shown", showarrow=False, xanchor="left",
                        yanchor="middle", font=tick_font, borderpad=0))
annotations.append(dict(xref="paper", yref="paper", x=px(593.5), y=py(28.5),
                        text="below are at " + AS_OF_LABEL, showarrow=False, xanchor="left",
                        yanchor="middle", font=tick_font, borderpad=0))

red_font = dict(family=FONT, size=12, color="#ff0000", weight="bold")
for i, (name, color, val, chg) in enumerate(zip(SERIES_NAMES, SERIES_COLORS,
                                               INDEX_VALUES, INDEX_CHANGES)):
    yn = 50.7 + 47.1 * i
    yv = yn + 20.8
    shapes.append(dict(type="line", xref="paper", yref="paper",
                       x0=px(594.3), x1=px(603.3), y0=py(yn), y1=py(yn),
                       line=dict(color=color, width=1)))
    annotations.append(dict(xref="paper", yref="paper", x=px(609), y=py(yn),
                            text=name, showarrow=False, xanchor="left", yanchor="middle",
                            font=tick_font, borderpad=0))
    annotations.append(dict(xref="paper", yref="paper", x=px(673), y=py(yv),
                            text=val, showarrow=False, xanchor="right", yanchor="middle",
                            font=red_font, borderpad=0))
    annotations.append(dict(xref="paper", yref="paper", x=px(741), y=py(yv),
                            text=chg, showarrow=False, xanchor="right", yanchor="middle",
                            font=red_font, borderpad=0))
    if i > 0:
        tri = "M {:.4f} {:.4f} L {:.4f} {:.4f} L {:.4f} {:.4f} Z".format(
            px(732.5), py(yn - 1.5), px(739.5), py(yn - 1.5), px(736), py(yn + 2.5))
        shapes.append(dict(type="path", xref="paper", yref="paper", path=tri,
                           fillcolor="#ffffff", line=dict(color="#ffffff", width=0)))

fig.update_layout(width=W, height=H, margin=dict(l=ML, r=MR, t=MT, b=MB, pad=0,
                                                 autoexpand=False),
                  paper_bgcolor=BG, plot_bgcolor=BG, showlegend=False,
                  shapes=shapes, annotations=annotations, hovermode=False)

fig.write_html("out.html", config={"displayModeBar": False, "staticPlot": True},
               post_script="document.body.style.margin='0';"
                           "document.body.style.background='" + BG + "';"
                           "document.body.style.overflow='hidden';")
